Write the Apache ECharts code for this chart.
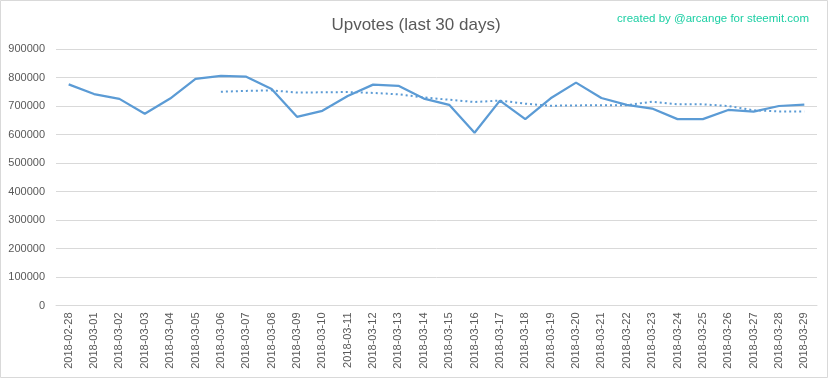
<!DOCTYPE html>
<html>
<head>
<meta charset="utf-8">
<script src="https://cdn.jsdelivr.net/npm/echarts@6/dist/echarts.min.js"></script>
<style>html,body{margin:0;padding:0;background:#fff;}#c{width:832px;height:379px;}</style>
</head>
<body>
<div id="c"></div>
<script>
const categories = ['2018-02-28','2018-03-01','2018-03-02','2018-03-03','2018-03-04','2018-03-05','2018-03-06','2018-03-07','2018-03-08','2018-03-09','2018-03-10','2018-03-11','2018-03-12','2018-03-13','2018-03-14','2018-03-15','2018-03-16','2018-03-17','2018-03-18','2018-03-19','2018-03-20','2018-03-21','2018-03-22','2018-03-23','2018-03-24','2018-03-25','2018-03-26','2018-03-27','2018-03-28','2018-03-29'];
const upvotes = [776000,742000,725000,673000,726000,795000,806000,803000,760000,662000,683000,735000,775000,771000,726000,704000,606000,719000,654000,727000,782000,728000,704000,691000,654000,654000,686000,680000,700000,705000];
const trend = [null,null,null,null,null,null,750000,753000,755000,747000,748000,749000,746000,741000,730000,722000,714000,719000,708000,701000,702000,703000,703000,715000,706000,706000,700000,685000,681000,681000];
const yTicks = {min:0, max:900000, interval:100000};

const chart = echarts.init(document.getElementById('c'));
chart.setOption({
  animation:false,
  backgroundColor:'#fff',
  graphic:[{type:'rect',shape:{x:0.5,y:0.5,width:827,height:377},style:{fill:'none',stroke:'#D9D9D9',lineWidth:1},silent:true}],
  title:[
    {text:'Upvotes (last 30 days)',left:'center',top:12,textStyle:{fontFamily:'Liberation Sans',fontSize:17,fontWeight:'normal',color:'#595959'}},
    {text:'created by @arcange for steemit.com',right:18,top:8,textStyle:{fontFamily:'Liberation Sans',fontSize:11.5,fontWeight:'normal',color:'#1CCFA4'}}
  ],
  grid:{left:56,right:15,top:49,bottom:73.5,containLabel:false},
  xAxis:{type:'category',data:categories,boundaryGap:true,
    axisLine:{show:true,lineStyle:{color:'#D9D9D9',width:1}},
    axisTick:{show:false},
    axisLabel:{rotate:90,interval:0,margin:7,fontFamily:'Liberation Sans',fontSize:11,color:'#595959'}},
  yAxis:{type:'value',min:yTicks.min,max:yTicks.max,interval:yTicks.interval,
    axisLine:{show:false},axisTick:{show:false},
    splitLine:{lineStyle:{color:'#D9D9D9',width:1}},
    axisLabel:{margin:11,fontFamily:'Liberation Sans',fontSize:11,color:'#595959',formatter:function(v){return String(v);}}},
  series:[
    {type:'line',data:upvotes,symbol:'none',lineStyle:{color:'#5B9BD5',width:2.25},z:3},
    {type:'line',data:trend,symbol:'none',connectNulls:false,lineStyle:{color:'#5B9BD5',width:2,type:[2,3]},z:2}
  ]
});
</script>
</body>
</html>
